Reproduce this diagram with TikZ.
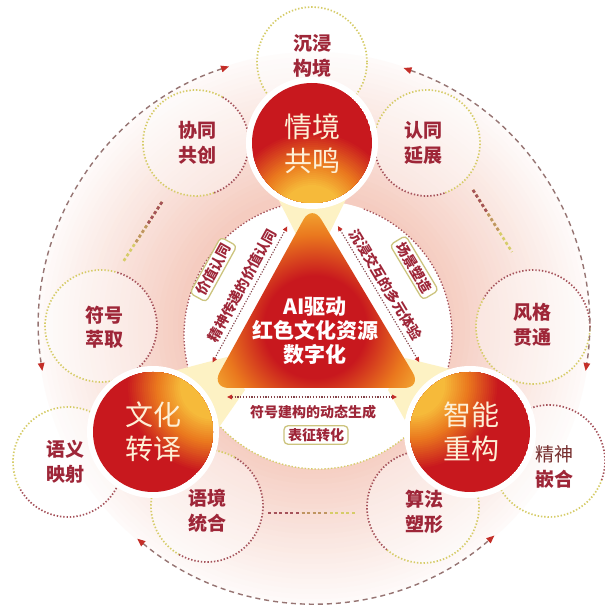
\documentclass[tikz,border=0pt]{standalone}
\usepackage{fontspec}
\usetikzlibrary{arrows.meta,calc}
\newfontfamily\cjk{Noto Sans CJK SC}
\definecolor{myred}{RGB}{200,24,30}
\definecolor{myorange}{RGB}{234,120,30}
\definecolor{myyellow}{RGB}{246,186,58}
\definecolor{txtred}{RGB}{158,38,56}
\definecolor{dotyellow}{RGB}{214,204,104}
\definecolor{dotred}{RGB}{165,82,90}
\definecolor{dashgray}{RGB}{150,116,114}
\definecolor{arrred}{RGB}{196,46,40}
\definecolor{ringpink}{RGB}{245,204,192}
\definecolor{glow}{RGB}{253,242,196}
\definecolor{cream}{RGB}{253,240,214}
\definecolor{boxedge}{RGB}{204,196,126}
\definecolor{darkbrown}{RGB}{118,46,46}
\pgfdeclareradialshading{trishade}{\pgfpoint{0bp}{0bp}}{color(0bp)=(myred); color(10bp)=(myred); color(18bp)=(myorange); color(25bp)=(myyellow); color(50bp)=(myyellow)}
\tikzset{
  smalltext/.style={font=\cjk\bfseries\fontsize{19}{24.5}\selectfont, text=txtred, align=center},
  bigtext/.style={font=\cjk\fontsize{28}{34}\selectfont, text=cream, align=center},
  tritext/.style={font=\cjk\bfseries\fontsize{21}{24}\selectfont, text=white, align=center},
  edgetext/.style={font=\cjk\bfseries\fontsize{14}{16}\selectfont, text=txtred, inner sep=1pt},
  tagbox/.style={edgetext, draw=boxedge, line width=1.3pt, fill=white, rounded corners=4pt, inner xsep=4pt, inner ysep=2.5pt},
  reddot/.style={draw=dotred, line width=1.7pt, dash pattern=on 1.4pt off 1.9pt},
  yeldot/.style={draw=dotyellow, line width=1.7pt, dash pattern=on 1.4pt off 1.9pt},
  redtip/.tip={Triangle[length=8pt,width=6.5pt,color=arrred]},
  smalltip/.tip={Triangle[length=5pt,width=4.5pt,color=arrred]},
  outerarc/.style={draw=dashgray, line width=1.4pt, dash pattern=on 5pt off 4pt, arrows={redtip-redtip}},
  edgearrow/.style={draw=dotred!80!black, line width=1.1pt, dash pattern=on 1.2pt off 1.6pt, arrows={smalltip-smalltip}},
  linkline/.style={line width=2.6pt, dash pattern=on 3pt off 2.6pt},
  beam/.style={fill=glow}
}
\begin{document}
\begin{tikzpicture}[x=1pt,y=1pt]
\useasboundingbox (0,0) rectangle (605,606);
\fill[white] (0,0) rectangle (605,606);
% centres
\coordinate (O) at (314,278);
\coordinate (I) at (318,271);
\coordinate (Q) at (312,463);
\coordinate (W) at (153,174);
\coordinate (Z) at (470,174);
\coordinate (AP) at (312,402);
\coordinate (BL) at (211,218);
\coordinate (BR) at (422,218);
\coordinate (c1) at (312,544);
\coordinate (c2) at (196,463);
\coordinate (c3) at (427,463);
\coordinate (c4) at (101,280);
\coordinate (c5) at (533,279);
\coordinate (c6) at (68,144);
\coordinate (c7) at (207,100);
\coordinate (c8) at (423,99);
\coordinate (c9) at (549,145);
% pink ring
\foreach \i in {0,...,28}{
  \pgfmathsetmacro\rr{276-5*\i}
  \pgfmathtruncatemacro\pp{10+90*\i/28}
  \fill[ringpink!\pp!white] (O) circle (\rr);
}
% small circle fills
\foreach \c/\r in {c1/55,c2/53,c3/53,c4/56,c5/57,c6/55,c7/56,c8/56,c9/56}{
  \fill[white,opacity=.4] (\c) circle (\r);
}
% inner white disc
\fill[white] (I) circle (134);
\draw[reddot,line width=1.3pt] (I) ++(105:134) arc[start angle=105,end angle=205,radius=134];
\draw[yeldot,line width=1.3pt] (I) ++(205:134) arc[start angle=205,end angle=335,radius=134];
\draw[reddot,line width=1.3pt] (I) ++(-25:134) arc[start angle=-25,end angle=70,radius=134];
% small circle borders
\draw[yeldot] (c1) circle (55);
\foreach \c/\r/\a/\b in {c2/53/-70/60, c3/53/170/290, c4/56/-60/75, c5/57/0/150, c6/55/-150/-20, c7/56/-120/60, c8/56/90/230, c9/56/-20/130}{
  \pgfmathsetmacro\e{\a+360}
  \draw[reddot] (\c) ++(\a:\r) arc[start angle=\a,end angle=\b,radius=\r];
  \draw[yeldot] (\c) ++(\b:\r) arc[start angle=\b,end angle=\e,radius=\r];
}
% links between small circles
\coordinate (l1a) at (162,404); \coordinate (l1b) at (123,344);
\coordinate (l2a) at (473,416); \coordinate (l2b) at (512,354);
\coordinate (l3a) at (268,93);  \coordinate (l3b) at (357,93);
\foreach \p/\q in {l1a/l1b,l2a/l2b,l3a/l3b}{
  \draw[linkline,draw=dotyellow] (\p) -- (\q);
  \draw[linkline,draw=dotred!45!dotyellow] (\p) -- ($(\p)!0.68!(\q)$);
  \draw[linkline,draw=dotred] (\p) -- ($(\p)!0.36!(\q)$);
}
% outer arcs
\draw[outerarc] (O) ++(108:275) arc[start angle=108,end angle=189,radius=275];
\draw[outerarc] (O) ++(71:275) arc[start angle=71,end angle=-9,radius=275];
\draw[outerarc] (O) ++(230:275) arc[start angle=230,end angle=311,radius=275];
% glow beams
\fill[beam] (Q) -- (273,417) -- (296,372) -- (329,372) -- (351,417) -- cycle;
\fill[beam] (W) -- (166,233) -- (227,249) -- (245,216) -- (213,170) -- cycle;
\fill[beam] (Z) -- (462,234) -- (405,248) -- (388,216) -- (410,177) -- cycle;
% central triangle
\begin{scope}
  \clip[rounded corners=18pt] (AP) -- (BL) -- (BR) -- cycle;
  \shade[shading=trishade] (315,279) circle (128);
\end{scope}
\node[tritext] (tri) at (315,275) {AI驱动\\红色文化资源\\数字化};
% big circles
\foreach \C/\ang in {Q/-90, W/37, Z/140}{
  \fill[white] (\C) circle (66);
  \begin{scope}
    \clip (\C) circle (60);
    \fill[myred] (\C) circle (60);
    \coordinate (P) at ($(\C)+(\ang:74)$);
    \foreach \k in {0,...,15}{
      \pgfmathsetmacro\rr{86-2*\k}
      \pgfmathtruncatemacro\pp{100*\k/15}
      \fill[myorange!\pp!myred] (P) circle (\rr);
    }
    \foreach \k in {1,...,12}{
      \pgfmathsetmacro\rr{56-2*\k}
      \pgfmathtruncatemacro\pp{100*\k/12}
      \fill[myyellow!\pp!myorange] (P) circle (\rr);
    }
  \end{scope}
}
\node[bigtext] (q) at (312,462) {情境\\共鸣};
\node[bigtext] (w) at (153,174) {文化\\转译};
\node[bigtext] (z) at (471,174) {智能\\重构};
% small circle texts
\node[smalltext] (n1) at (312,550) {沉浸\\构境};
\node[smalltext] (n2) at (197,463) {协同\\共创};
\node[smalltext] (n3) at (423,463) {认同\\延展};
\node[smalltext] (n4) at (104,279) {符号\\萃取};
\node[smalltext] (n5) at (532,281) {风格\\贯通};
\node[smalltext] (n6) at (65,144) {语义\\映射};
\node[smalltext] (n7) at (207,95) {语境\\统合};
\node[smalltext] (n8) at (424,94) {算法\\塑形};
\node[smalltext] (n9) at (554,139) {{\mdseries\color{darkbrown}精神}\\嵌合};
% edge arrows
\coordinate (la1) at (212.5,243.5); \coordinate (la2) at (287.3,379.7);
\coordinate (ra1) at (419.3,243.8); \coordinate (ra2) at (337.9,380);
\coordinate (ba1) at (227,209);     \coordinate (ba2) at (397,209);
\draw[edgearrow] (la1) -- (la2);
\draw[edgearrow] (ra2) -- (ra1);
\draw[edgearrow] (ba1) -- (ba2);
\node[edgetext,rotate=61.2] (lt) at (242.2,320.6) {精神传递的价值认同};
\node[tagbox,rotate=61.2] (lb) at (213.4,336.4) {价值认同};
\node[edgetext,rotate=-59.1] (rt) at (385.9,321.3) {沉浸交互的多元体验};
\node[tagbox,rotate=-59.1] (rb) at (414.2,338.3) {场景塑造};
\node[edgetext] (bt) at (313,194) {符号建构的动态生成};
\node[tagbox] (bb) at (316,171) {表征转化};
\end{tikzpicture}
\end{document}
